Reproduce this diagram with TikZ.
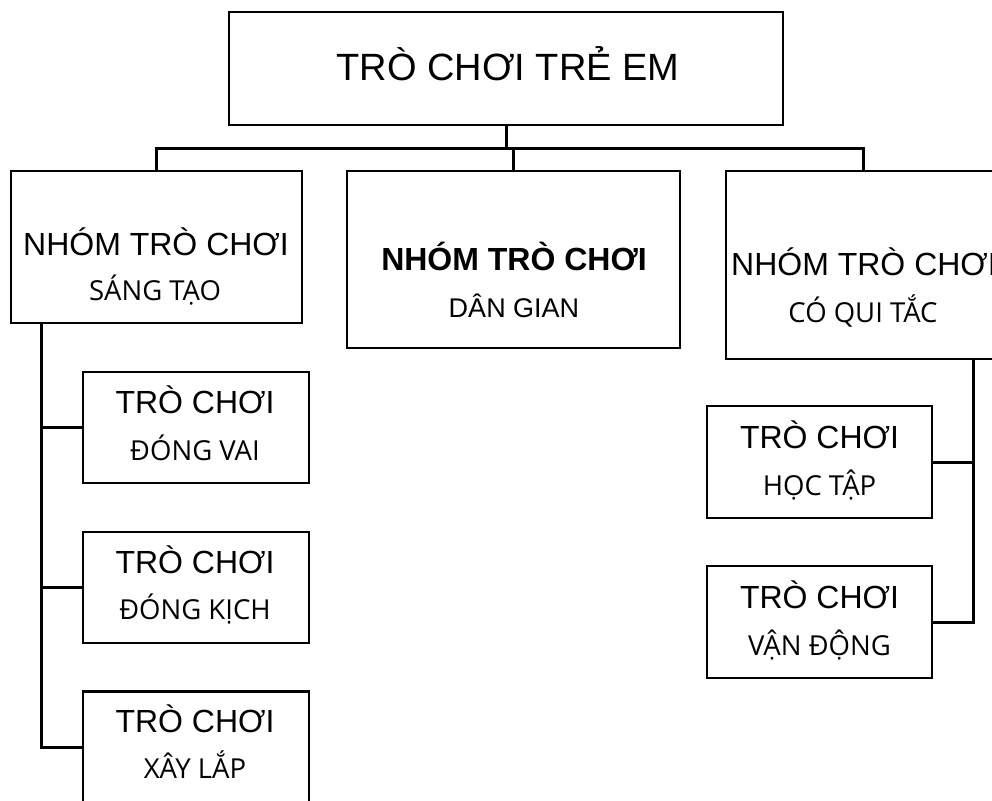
\documentclass[tikz,border=0pt]{standalone}
\usepackage{fontspec}
\setmainfont{Liberation Sans}
\newfontfamily\osans{Open Sans}
\begin{document}
\begin{tikzpicture}[x=1pt,y=-1pt,
  box/.style={draw=black,line width=2.6pt,rectangle,inner sep=0pt,outer sep=0pt},
  wire/.style={draw=black,line width=3pt},
  ttl/.style={anchor=base,inner sep=0pt,font=\fontsize{32}{38}\selectfont},
  sub/.style={anchor=base,inner sep=0pt,font=\osans\fontsize{27.5}{32}\selectfont}]
\useasboundingbox (0,0) rectangle (992,800);
\clip (0,0) rectangle (992,800);
% boxes
\node[box,minimum width=554pt,minimum height=113pt] (top) at (506,68.5) {};
\node[box,minimum width=291pt,minimum height=152pt] (gl) at (156.5,247) {};
\node[box,minimum width=333pt,minimum height=177pt] (gc) at (513.5,259.5) {};
\node[box,minimum width=274pt,minimum height=188pt] (gr) at (863,265) {};
\node[box,minimum width=226pt,minimum height=111pt] (s1) at (196,427.5) {};
\node[box,minimum width=226pt,minimum height=111pt] (s2) at (196,587.5) {};
\node[box,minimum width=226pt,minimum height=111pt] (s3) at (196,747) {};
\node[box,minimum width=225pt,minimum height=112pt] (r1) at (819.5,462) {};
\node[box,minimum width=225pt,minimum height=112pt] (r2) at (819.5,622) {};
% texts
\node[anchor=base,inner sep=0pt,font=\fontsize{38}{44}\selectfont] (ttop) at (508,80) {TRÒ CHƠI TRẺ EM};
\node[ttl] (tgl) at (156,255) {NHÓM TRÒ CHƠI};
\node[sub] (sgl) at (155,300) {SÁNG TẠO};
\node[anchor=base,inner sep=0pt,font=\bfseries\fontsize{32}{38}\selectfont] (tgc) at (514,270) {NHÓM TRÒ CHƠI};
\node[anchor=base,inner sep=0pt,font=\fontsize{27}{32}\selectfont] (sgc) at (514,317) {DÂN GIAN};
\node[ttl] (tgr) at (864,275) {NHÓM TRÒ CHƠI};
\node[sub] (sgr) at (863,322) {CÓ QUI TẮC};
\node[ttl] (ts1) at (195,413) {TRÒ CHƠI};
\node[sub] (ss1) at (195,460) {ĐÓNG VAI};
\node[ttl] (ts2) at (195,573) {TRÒ CHƠI};
\node[sub] (ss2) at (195,619) {ĐÓNG KỊCH};
\node[ttl] (ts3) at (195,732) {TRÒ CHƠI};
\node[sub] (ss3) at (195,778) {XÂY LẮP};
\node[ttl] (tr1) at (819.5,448) {TRÒ CHƠI};
\node[sub] (sr1) at (819.5,495) {HỌC TẬP};
\node[ttl] (tr2) at (819.5,608) {TRÒ CHƠI};
\node[sub] (sr2) at (819.5,655) {VẬN ĐỘNG};
% connectors
\coordinate (bus) at (0,148);
\coordinate (ltrunk) at (41,323);
\coordinate (rtrunk) at (973,359);
\draw[wire] (top.south) -- (top.south |- bus);
\draw[wire] (gl.north) -- (gl.north |- bus) -- (gr.north |- bus) -- (gr.north);
\draw[wire] (gc.north) -- (gc.north |- bus);
\draw[wire] (ltrunk) |- (s3.west);
\draw[wire] (ltrunk |- s1.west) -- (s1.west);
\draw[wire] (ltrunk |- s2.west) -- (s2.west);
\draw[wire] (rtrunk) |- (r2.east);
\draw[wire] (rtrunk |- r1.east) -- (r1.east);
\end{tikzpicture}
\end{document}
